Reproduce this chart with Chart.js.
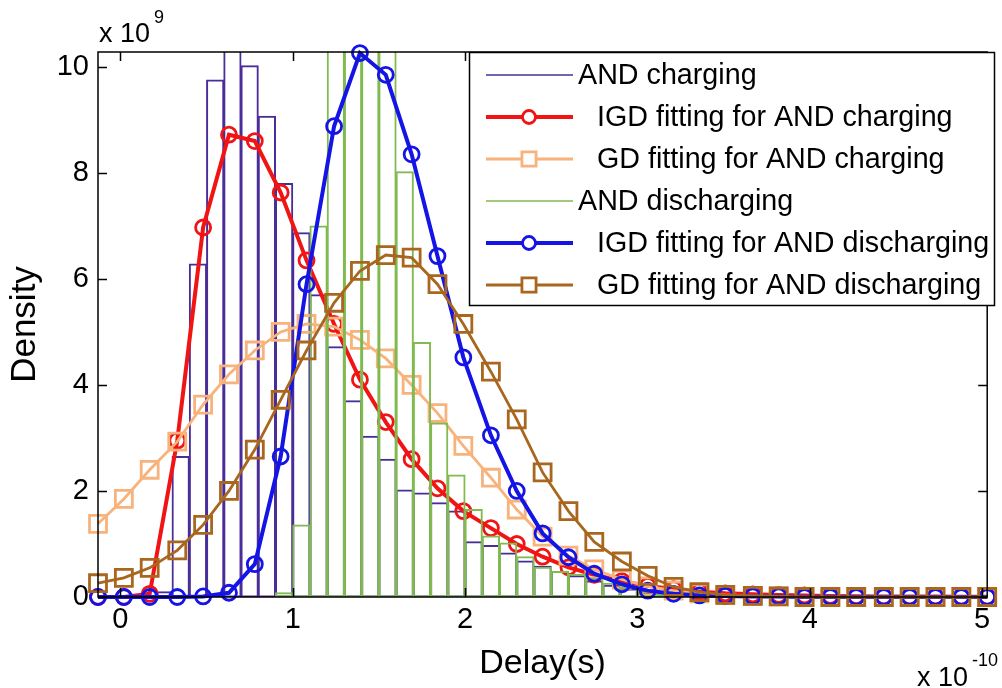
<!DOCTYPE html>
<html>
<head>
<meta charset="utf-8">
<script src="https://cdn.jsdelivr.net/npm/chart.js@4.4.1/dist/chart.umd.min.js"></script>
<style>
  html, body { margin: 0; padding: 0; background: #fff; overflow: hidden; }
  canvas { display: block; }
</style>
</head>
<body>
<canvas id="c" width="1002" height="688"></canvas>
<script>
// Histogram bins (centres, units of 1e-10 s) and densities (units of 1e9)
const binCenters = [0.25, 0.35, 0.45, 0.55, 0.65, 0.75, 0.85, 0.95, 1.05, 1.15,
                    1.25, 1.35, 1.45, 1.55, 1.65, 1.75, 1.85, 1.95, 2.05, 2.15,
                    2.25, 2.35, 2.45, 2.55, 2.65, 2.75, 2.85, 2.95, 3.05, 3.15,
                    3.25, 3.35];
const chargingHist = [0.10, 2.65, 6.28, 9.75, 10.90, 10.02, 9.07, 7.80, 6.87, 5.70,
                      4.72, 3.70, 3.03, 2.60, 2.02, 1.96, 1.78, 1.62, 1.04, 0.97,
                      0.83, 0.68, 0.58, 0.48, 0.40, 0.30, 0.22, 0.15, 0.10, 0.06,
                      0.04, 0.02];
const dischargingHist = [null, null, null, null, null, null, null, 0.08, 1.36, 7.00,
                         10.80, 11.60, 11.30, 10.60, 8.02, 4.80, 3.28, 2.30, 1.65, 1.15,
                         1.02, 0.76, 0.56, 0.48, 0.43, 0.36, 0.26, 0.18, 0.10, 0.05,
                         0.03, 0.01];

// Fitted density curves, sampled at these delays
const fitDelay = [-0.13, 0.02, 0.17, 0.33, 0.48, 0.63, 0.78, 0.93, 1.08, 1.24,
                  1.39, 1.54, 1.69, 1.84, 1.99, 2.15, 2.30, 2.45, 2.60, 2.75,
                  2.91, 3.06, 3.21, 3.36, 3.51, 3.67, 3.82, 3.97, 4.12, 4.27,
                  4.43, 4.58, 4.73, 4.88, 5.03];
const igdCharging = [0, 0, 0.06, 2.95, 6.97, 8.72, 8.60, 7.63, 6.35, 5.15,
                     4.10, 3.30, 2.60, 2.05, 1.62, 1.30, 1.00, 0.76, 0.56, 0.42,
                     0.30, 0.21, 0.15, 0.10, 0.07, 0.05, 0.04, 0.03, 0.02, 0.015,
                     0.01, 0.01, 0.01, 0.005, 0.005];
const gdCharging = [1.38, 1.85, 2.40, 2.93, 3.63, 4.20, 4.65, 5.00, 5.15, 5.10,
                    4.85, 4.50, 4.00, 3.47, 2.85, 2.25, 1.65, 1.14, 0.78, 0.52,
                    0.33, 0.20, 0.12, 0.07, 0.04, 0.02, 0.01, 0, 0, 0,
                    0, 0, 0, 0, 0];
const igdDischarging = [0, 0, 0, 0, 0.01, 0.08, 0.62, 2.65, 5.90, 8.88,
                        10.26, 9.85, 8.35, 6.43, 4.52, 3.05, 2.00, 1.20, 0.75, 0.44,
                        0.24, 0.12, 0.06, 0.03, 0.02, 0.01, 0.01, 0, 0, 0,
                        0, 0, 0, 0, 0];
const gdDischarging = [0.26, 0.36, 0.55, 0.88, 1.36, 2.00, 2.78, 3.72, 4.65, 5.55,
                       6.15, 6.45, 6.40, 5.90, 5.15, 4.25, 3.35, 2.35, 1.62, 1.04,
                       0.67, 0.40, 0.19, 0.09, 0.04, 0.02, 0.01, 0, 0, 0,
                       0, 0, 0, 0, 0];

const xTicks = [0, 1, 2, 3, 4, 5];
const yTicks = [0, 2, 4, 6, 8, 10];
const xRange = [-0.13, 5.03];
const yRange = [0, 10.28];

const seriesNames = [
  'AND charging',
  'IGD fitting for AND charging',
  'GD fitting for AND charging',
  'AND discharging',
  'IGD fitting for AND discharging',
  'GD fitting for AND discharging'
];

const FONT = '"Liberation Sans", Arial, Helvetica, sans-serif';
const COLORS = {
  purple: '#4a2e98',
  red: '#f01414',
  orange: '#f8b27c',
  green: '#80ba50',
  blue: '#1414e6',
  brown: '#a8661e'
};

const toPoints = (xs, ys) => xs.map((x, i) => ({ x: x, y: ys[i] })).filter(p => p.y !== null);

function histDataset(label, values, color) {
  return {
    type: 'bar', label: label,
    data: toPoints(binCenters, values),
    backgroundColor: 'rgba(0,0,0,0)',
    borderColor: color, borderWidth: 1, borderSkipped: false,
    inflateAmount: 0.5,
    grouped: false, barPercentage: 1, categoryPercentage: 1
  };
}
function fitDataset(label, values, color, marker, width) {
  const circle = marker === 'circle';
  return {
    type: 'line', label: label,
    data: toPoints(fitDelay, values),
    borderColor: color, borderWidth: width, tension: 0, fill: false,
    pointStyle: marker, pointRadius: circle ? 7.5 : 12,
    pointBorderWidth: 2.8,
    pointBorderColor: color, pointBackgroundColor: 'rgba(0,0,0,0)',
    clip: false
  };
}

const datasets = [
  histDataset(seriesNames[0], chargingHist, COLORS.purple),
  fitDataset(seriesNames[1], igdCharging, COLORS.red, 'circle', 4),
  fitDataset(seriesNames[2], gdCharging, COLORS.orange, 'rect', 2.8),
  histDataset(seriesNames[3], dischargingHist, COLORS.green),
  fitDataset(seriesNames[4], igdDischarging, COLORS.blue, 'circle', 4),
  fitDataset(seriesNames[5], gdDischarging, COLORS.brown, 'rect', 2.8)
];
// later series are painted over earlier ones
datasets.forEach((d, i) => { d.order = datasets.length - i; });

// Axes box, inward tick marks, exponent labels and the boxed legend
const framePlugin = {
  id: 'frame',
  afterDraw(chart) {
    const { ctx, chartArea: a, scales } = chart;
    const xs = scales.x, ys = scales.y;
    ctx.save();
    ctx.strokeStyle = '#000';
    ctx.lineWidth = 1.5;
    ctx.strokeRect(a.left, a.top, a.right - a.left, a.bottom - a.top);

    const tl = 9;
    ctx.beginPath();
    xTicks.forEach(v => {
      const px = Math.round(xs.getPixelForValue(v)) + 0.5;
      ctx.moveTo(px, a.bottom); ctx.lineTo(px, a.bottom - tl);
      ctx.moveTo(px, a.top); ctx.lineTo(px, a.top + tl);
    });
    yTicks.forEach(v => {
      const py = Math.round(ys.getPixelForValue(v)) + 0.5;
      ctx.moveTo(a.left, py); ctx.lineTo(a.left + tl, py);
      ctx.moveTo(a.right, py); ctx.lineTo(a.right - tl, py);
    });
    ctx.stroke();

    // scale exponents
    ctx.fillStyle = '#000';
    ctx.textBaseline = 'alphabetic';
    ctx.textAlign = 'left';
    ctx.font = '27px ' + FONT;
    ctx.fillText('x 10', 99, 42);
    ctx.font = '18px ' + FONT;
    ctx.fillText('9', 154, 23);
    ctx.font = '27px ' + FONT;
    ctx.fillText('x 10', 917, 686);
    ctx.font = '18px ' + FONT;
    ctx.fillText('-10', 972, 666);

    // legend
    const box = { left: 469, top: 52, right: 994, bottom: 305 };
    ctx.fillStyle = '#fff';
    ctx.fillRect(box.left, box.top, box.right - box.left, box.bottom - box.top);
    ctx.lineWidth = 1.5;
    ctx.strokeStyle = '#000';
    ctx.strokeRect(box.left + 0.5, box.top + 0.5, box.right - box.left, box.bottom - box.top);

    const rowY0 = 75, rowGap = 42;
    const lineX0 = 486, lineX1 = 573, markX = 529;
    chart.data.datasets.forEach((d, i) => {
      const yy = rowY0 + i * rowGap;
      const isHist = d.type === 'bar';
      ctx.strokeStyle = d.borderColor;
      ctx.lineWidth = isHist ? 1.5 : d.borderWidth;
      ctx.beginPath();
      ctx.moveTo(lineX0, yy); ctx.lineTo(lineX1, yy);
      ctx.stroke();
      if (!isHist) {
        ctx.fillStyle = '#fff';
        ctx.lineWidth = d.pointBorderWidth;
        Chart.helpers.drawPoint(ctx, {
          pointStyle: d.pointStyle,
          radius: d.pointStyle === 'circle' ? 6.5 : 10,
          borderWidth: d.pointBorderWidth,
          rotation: 0
        }, markX, yy);
      }
      ctx.fillStyle = '#000';
      ctx.font = '28.7px ' + FONT;
      ctx.textBaseline = 'middle';
      ctx.fillText(d.label, isHist ? 578 : 597, yy + 1);
    });
    ctx.restore();
  }
};

new Chart(document.getElementById('c'), {
  type: 'line',
  data: { datasets: datasets },
  options: {
    responsive: false,
    animation: false,
    events: [],
    layout: { padding: { top: 52, right: 3, left: 0, bottom: 0 } },
    plugins: { legend: { display: false }, tooltip: { enabled: false } },
    scales: {
      x: {
        type: 'linear', min: xRange[0], max: xRange[1], offset: false,
        afterBuildTicks: s => { s.ticks = xTicks.map(v => ({ value: v })); },
        afterFit: s => { s.height = 91; },
        grid: { display: false, drawTicks: false },
        border: { display: false },
        ticks: { font: { family: FONT, size: 29 }, color: '#000', padding: 6, maxRotation: 0, autoSkip: false },
        title: { display: true, text: 'Delay(s)', font: { family: FONT, size: 34 }, color: '#000', padding: { top: 0, bottom: 4 } }
      },
      y: {
        type: 'linear', min: yRange[0], max: yRange[1],
        afterBuildTicks: s => { s.ticks = yTicks.map(v => ({ value: v })); },
        afterFit: s => { s.width = 98; },
        grid: { display: false, drawTicks: false },
        border: { display: false },
        ticks: { font: { family: FONT, size: 29 }, color: '#000', padding: 9, autoSkip: false },
        title: { display: true, text: 'Density', font: { family: FONT, size: 35 }, color: '#000', padding: { top: 4, bottom: 0 } }
      }
    }
  },
  plugins: [framePlugin]
});
</script>
</body>
</html>
